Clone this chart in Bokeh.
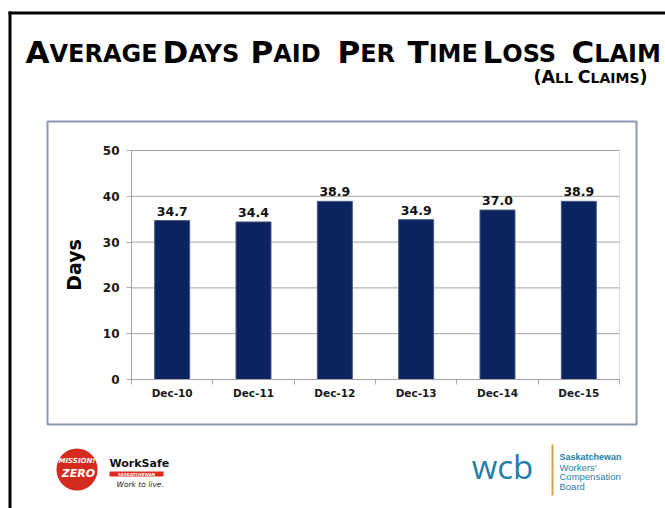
from bokeh.plotting import figure
from bokeh.models import Range1d, FixedTicker, Label, BoxAnnotation, LabelSet, ColumnDataSource
from bokeh.core.properties import value
from bokeh.embed import file_html
from bokeh.resources import INLINE

# ---------------- data ----------------
categories = ["Dec-10", "Dec-11", "Dec-12", "Dec-13", "Dec-14", "Dec-15"]
days = [34.7, 34.4, 38.9, 34.9, 37.0, 38.9]
y_ticks = [0, 10, 20, 30, 40, 50]
title_words = ["AVERAGE", "DAYS", "PAID", "PER", "TIME", "LOSS", "CLAIM"]
subtitle_words = ["(ALL", "CLAIMS)"]
y_label = "Days"

# ---------------- layout (page pixels) ----------------
PW, PH = 665, 508
BX0, BY0, BX1, BY1 = 47, 121, 636, 424      # chart box
FL, FR, FT, FB = 131, 619, 150, 379          # plot area

TF = "DejaVu Sans"
BAR = "#0b2461"
BOXC = "#8a9ab6"
GRID = "#a3a3a3"
AXC = "#aaaaaa"
BASE_FIX = 0.34   # em shift so that the label's y is the visible baseline

n = len(categories)
y0, y1 = y_ticks[0], y_ticks[-1]
kx = (FR - FL) / n
ky = (FB - FT) / (y1 - y0)
x_range = Range1d(-FL / kx, n + (PW - FR) / kx)
y_range = Range1d(y0 - (PH - FB) / ky, y1 + FT / ky)


def dx(px):
    return x_range.start + px / kx


def dy(py):
    return y_range.end - py / ky


p = figure(width=PW, height=PH, x_range=x_range, y_range=y_range,
           output_backend="svg", toolbar_location=None, min_border=0)
p.background_fill_color = "white"
p.border_fill_color = "white"
p.outline_line_color = None
p.xgrid.visible = False
p.ygrid.visible = False


def box(l, t, r, b, fill=None, line=None, lw=1, **kw):
    p.add_layout(BoxAnnotation(left=dx(l), right=dx(r), top=dy(t), bottom=dy(b),
                               fill_color=fill, fill_alpha=1.0 if fill else 0.0,
                               line_color=line, line_width=lw,
                               line_alpha=1.0 if line else 0.0, **kw))


def lab(text, x, y, size, color="#000000", style="bold", font=TF, align="left"):
    p.add_layout(Label(x=dx(x), y=dy(y - BASE_FIX * size), text=text, text_font=font,
                       text_font_style=style, text_font_size=f"{size}px",
                       text_color=color, text_align=align,
                       text_baseline="alphabetic"))


# slide frame and chart box
box(8, 11, PW + 5, 14, fill="#000000")
box(8, 11, 11, PH + 5, fill="#000000")
box(BX0, BY0, BX1, BY1, line=BOXC, lw=2)

# ---------------- chart ----------------
xs = [i + 0.5 for i in range(n)]
src = ColumnDataSource(dict(x=xs, days=days, cat=categories,
                            lbl=[f"{v:.1f}" for v in days]))

# horizontal gridlines from the tick values
p.segment(x0=[0] * len(y_ticks), x1=[n] * len(y_ticks), y0=y_ticks, y1=y_ticks,
          line_color=GRID, line_width=1)
# plot-area outline
p.add_layout(BoxAnnotation(left=0, right=n, bottom=y0, top=y1, fill_alpha=0,
                           line_color=BOXC, line_width=1))

p.vbar(x="x", top="days", bottom=0, width=0.43, source=src,
       fill_color=BAR, line_color="#4a5a7c", line_width=1)

p.add_layout(LabelSet(x="x", y="days", text="lbl", source=src,
                      text_align="center", text_baseline="bottom", y_offset=5,
                      text_font=value(TF), text_font_style="bold",
                      text_font_size=value("12.5px"), text_color="#111111"))

xa = p.xaxis[0]
xa.fixed_location = y0
xa.bounds = (0, n)
xa.ticker = FixedTicker(ticks=xs, minor_ticks=list(range(0, n + 1)))
xa.major_label_overrides = {x: c for x, c in zip(xs, categories)}
xa.major_tick_line_color = None
xa.major_tick_in = 0
xa.major_tick_out = 0
xa.minor_tick_in = 0
xa.minor_tick_out = 5
xa.minor_tick_line_color = AXC
xa.axis_line_color = AXC
xa.major_label_standoff = 2
xa.major_label_text_font = TF
xa.major_label_text_font_style = "bold"
xa.major_label_text_font_size = "10.5px"
xa.major_label_text_color = "#1a1a1a"

ya = p.yaxis[0]
ya.fixed_location = 0
ya.bounds = (y0, y1)
ya.ticker = FixedTicker(ticks=y_ticks)
ya.major_tick_in = 0
ya.major_tick_out = 5
ya.major_tick_line_color = AXC
ya.minor_tick_line_color = None
ya.axis_line_color = AXC
ya.major_label_standoff = 7
ya.major_label_text_font = TF
ya.major_label_text_font_style = "bold"
ya.major_label_text_font_size = "12px"
ya.major_label_text_color = "#1a1a1a"
ya.axis_label = y_label
ya.axis_label_text_font = TF
ya.axis_label_text_font_style = "bold"
ya.axis_label_text_font_size = "19px"
ya.axis_label_text_color = "#000000"
ya.axis_label_standoff = 15

# ---------------- title with small caps ----------------
BIG, SMALL = 31, 24
big_w = {"A": 0.774, "D": 0.830, "P": 0.733, "T": 0.682, "L": 0.637, "C": 0.734}
starts = [25, 162, 250, 337, 407, 482, 571]
for w, x0 in zip(title_words, starts):
    lab(w[0], x0, 62, BIG)
    lab(w[1:], x0 + big_w[w[0]] * BIG, 62, SMALL)

SB, SS = 17.5, 14
lab(subtitle_words[0][:2], 533, 82, SB)
lab(subtitle_words[0][2:], 554.5, 82, SS)
lab(subtitle_words[1][0], 577.2, 82, SB)
lab(subtitle_words[1][1:-1], 590, 82, SS)
lab(subtitle_words[1][-1], 639, 82, SB)

# ---------------- logos (approximations) ----------------
box(56, 448, 97, 490, fill="#d52b1e", border_radius=21)
lab("MISSION!", 76.5, 463, 7, color="white", style="bold italic", align="center")
lab("ZERO", 78, 477, 11, color="white", style="bold italic", align="center")
lab("WorkSafe", 109, 467, 11, color="#111111")
box(109, 471, 163, 476, fill="#e0281d")
lab("SASKATCHEWAN", 136, 475.3, 4, color="white", align="center")
lab("Work to live.", 116, 487, 7.5, color="#222222", style="italic")

TEAL = "#1f80aa"
lab("wcb", 502, 477, 33, color=TEAL, style="normal", font="Open Sans", align="center")
box(551, 444, 553, 495, fill="#d9a240")
lab("Saskatchewan", 559, 459.5, 9, color=TEAL, style="bold", font="Liberation Sans")
lab("Workers'", 559, 470, 9.5, color=TEAL, style="normal", font="Liberation Sans")
lab("Compensation", 559, 479.5, 9.5, color=TEAL, style="normal", font="Liberation Sans")
lab("Board", 559, 489, 9.5, color=TEAL, style="normal", font="Liberation Sans")

open("out.html", "w").write(file_html(p, INLINE))
